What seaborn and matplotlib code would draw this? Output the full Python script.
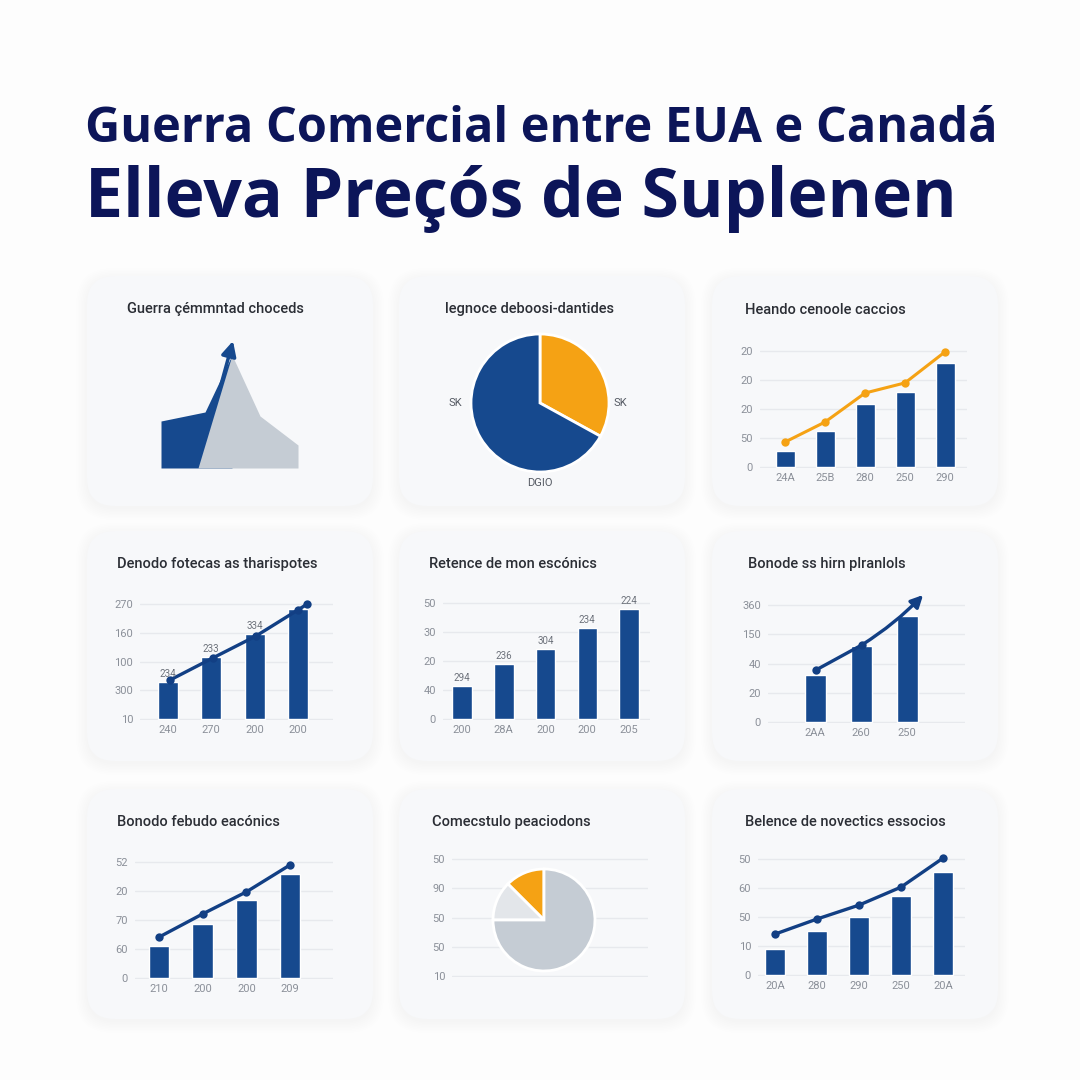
import numpy as np
import matplotlib
matplotlib.use("Agg")
import matplotlib.pyplot as plt
from matplotlib.patches import FancyBboxPatch
import seaborn as sns

W = H = 1080

NAVY = "#0c1559"
BLUE = "#16498e"
LINE_BLUE = "#123f84"
ORANGE = "#f5a214"
GRAY = "#c5ccd4"
LIGHT = "#e3e6ea"
TICK = "#8b9099"
GRID = "#e7e9ed"
TXT = "#2b2e35"

TITLE_1 = "Guerra Comercial entre EUA e Canadá"
TITLE_2 = "Elleva Preçós de Suplenen"

CARD_TITLES = [
    "Guerra çémmntad choceds", "legnoce deboosi-dantides", "Heando cenoole caccios",
    "Denodo fotecas as tharispotes", "Retence de mon escónics", "Bonode ss hirn plranlols",
    "Bonodo febudo eacónics", "Comecstulo peaciodons", "Belence de novectics essocios",
]

# panel 1: two overlapping areas
area_blue_x = [0, 44, 71]
area_blue_y = [47, 56, 113]
area_gray_x = [37, 71, 99, 137]
area_gray_y = [0, 113, 52, 23]

# panel 2: pie
pie_a_values = [33, 67]
pie_a_labels = ["SK", "SK", "DGIO"]

# panel 3
p3_ticks = ["0", "50", "20", "20", "20"]
p3_cats = ["24A", "25B", "280", "250", "290"]
p3_bars = [0.55, 1.24, 2.17, 2.59, 3.59]
p3_line = [0.86, 1.55, 2.55, 2.90, 3.97]

# panel 4
p4_ticks = ["10", "300", "100", "160", "270"]
p4_cats = ["240", "270", "200", "200"]
p4_bars = [1.29, 2.16, 2.96, 3.83]
p4_vals = ["234", "233", "334", ""]
p4_line_x = [0.05, 1.04, 2.03, 3.0, 3.21]
p4_line_y = [1.36, 2.13, 2.89, 3.80, 4.0]

# panel 5
p5_ticks = ["0", "40", "20", "30", "50"]
p5_cats = ["200", "28A", "200", "200", "205"]
p5_bars = [1.14, 1.90, 2.41, 3.14, 3.79]
p5_vals = ["294", "236", "304", "234", "224"]

# panel 6
p6_ticks = ["0", "20", "40", "150", "360"]
p6_cats = ["2AA", "260", "250"]
p6_bars = [1.61, 2.60, 3.63]
p6_line_x = [0.02, 1.02, 2.35]
p6_line_y = [1.78, 2.64, 4.35]

# panel 7
p7_ticks = ["0", "60", "70", "20", "52"]
p7_cats = ["210", "200", "200", "209"]
p7_bars = [1.10, 1.86, 2.69, 3.59]
p7_line = [1.41, 2.21, 2.97, 3.90]

# panel 8: pie over grid
p8_ticks = ["10", "50", "50", "90", "50"]
pie_b_values = [12.5, 12.5, 75]

# panel 9
p9_ticks = ["0", "10", "50", "60", "50"]
p9_cats = ["20A", "280", "290", "250", "20A"]
p9_bars = [0.90, 1.52, 2.00, 2.72, 3.55]
p9_line = [1.41, 1.93, 2.41, 3.03, 4.03]


def px_axes(fig, x0, y0, x1, y1):
    return fig.add_axes([x0 / W, 1 - y1 / H, (x1 - x0) / W, (y1 - y0) / H])


def grid_axes(fig, gl, gr, base, step, ticks, ymax=4.6):
    lo = -0.04
    ax = px_axes(fig, gl, base - ymax * step, gr, base - lo * step)
    ax.set_ylim(lo, ymax)
    ax.set_yticks(range(5))
    ax.set_yticklabels(ticks)
    ax.grid(axis="y", color=GRID, lw=1)
    ax.grid(axis="x", visible=False)
    ax.set_axisbelow(True)
    for s in ax.spines.values():
        s.set_visible(False)
    ax.tick_params(length=0, colors=TICK, labelsize=8)
    ax.tick_params(axis="y", pad=5)
    ax.tick_params(axis="x", pad=3.5)
    ax.patch.set_alpha(0)
    return ax


def bar_panel(fig, gl, gr, base, step, first, gap, bw, ticks, cats, bars):
    ax = grid_axes(fig, gl, gr, base, step, ticks)
    x = list(range(len(bars)))
    sns.barplot(x=x, y=bars, color=BLUE, saturation=1, width=bw / gap, ax=ax)
    ax.set_xticks(x)
    ax.set_xticklabels(cats)
    ax.set_xlim((gl - first) / gap, (gr - first) / gap)
    ax.set_xlabel("")
    ax.set_ylabel("")
    return ax


sns.set_theme(style="white")
plt.rcParams["font.family"] = ["Roboto", "DejaVu Sans"]

fig = plt.figure(figsize=(10.8, 10.8), dpi=100)
fig.patch.set_facecolor("#fdfdfd")

# cards
bg = fig.add_axes([0, 0, 1, 1])
bg.set_xlim(0, W)
bg.set_ylim(H, 0)
bg.axis("off")
card_x = [87, 399, 712]
card_y = [276, 531, 789]
cw, ch = 286, 230
for cy in card_y:
    for cx in card_x:
        for k in range(8):
            bg.add_patch(FancyBboxPatch((cx - k * 1.5, cy + 3 - k * 1.5), cw + k * 3, ch + k * 3,
                                        boxstyle="round,pad=0,rounding_size=%d" % (28 + k),
                                        fc="#a3abbb", ec="none", alpha=0.007))
        bg.add_patch(FancyBboxPatch((cx, cy), cw, ch, boxstyle="round,pad=0,rounding_size=28",
                                    fc="#f7f8fa", ec="none"))

# main title
fig.text(85 / W, 1 - 142 / H, TITLE_1, color=NAVY, fontsize=35, fontweight="bold",
         family=["Open Sans", "DejaVu Sans"], va="baseline", ha="left")
fig.text(85 / W, 1 - 217 / H, TITLE_2, color=NAVY, fontsize=49, fontweight="bold",
         family=["Open Sans", "DejaVu Sans"], va="baseline", ha="left")

# card titles
title_pos = [(127, 309), (445, 309), (745, 310),
             (117, 564), (429, 564), (748, 564),
             (117, 822), (432, 822), (745, 822)]
for (tx, ty), t in zip(title_pos, CARD_TITLES):
    fig.text(tx / W, 1 - ty / H, t, color=TXT, fontsize=10.5, fontweight="medium",
             va="center", ha="left")

# panel 1: areas with arrow
ax = px_axes(fig, 150, 330, 310, 470)
ax.fill_between(area_blue_x, area_blue_y, 0, color=BLUE, lw=0)
ax.fill_between(area_gray_x, area_gray_y, 0, color=GRAY, lw=0)
ax.annotate("", xy=(area_blue_x[-1] + 1, area_blue_y[-1] + 14),
            xytext=(area_blue_x[-2] + 14, area_blue_y[-2] + 20),
            arrowprops=dict(arrowstyle="-|>", color=BLUE, lw=2.5, mutation_scale=22,
                            shrinkA=0, shrinkB=0))
ax.set_xlim(-11, 149)
ax.set_ylim(-2, 138)
ax.axis("off")

# panel 2: pie
ax = px_axes(fig, 460, 323, 620, 483)
ax.pie(pie_a_values, colors=[ORANGE, BLUE], startangle=90, counterclock=False,
       wedgeprops=dict(edgecolor="white", linewidth=2))
r = 80 / 69
ax.set_xlim(-r, r)
ax.set_ylim(-r, r)
ax.text(-1.23, 0, pie_a_labels[0], color="#555a63", fontsize=8, ha="center", va="center")
ax.text(1.17, 0, pie_a_labels[1], color="#555a63", fontsize=8, ha="center", va="center")
ax.text(0, -1.16, pie_a_labels[2], color="#555a63", fontsize=8, ha="center", va="center")

# panel 3
ax = bar_panel(fig, 760, 967, 467, 29, 785, 40, 19, p3_ticks, p3_cats, p3_bars)
sns.lineplot(x=list(range(5)), y=p3_line, color=ORANGE, lw=2.2, marker="o",
             markersize=6, markeredgewidth=0, ax=ax)

# panel 4
ax = bar_panel(fig, 140, 333, 719, 28.7, 168, 43.3, 20, p4_ticks, p4_cats, p4_bars)
for i, (b, v) in enumerate(zip(p4_bars, p4_vals)):
    ax.text(i, b + 0.28, v, color="#6d727b", fontsize=7, ha="center", va="center")
sns.lineplot(x=p4_line_x, y=p4_line_y, color=LINE_BLUE, lw=2.4, marker="o",
             markersize=6, markeredgewidth=0, ax=ax)

# panel 5
ax = bar_panel(fig, 443, 650, 719, 29, 462, 41.75, 19.5, p5_ticks, p5_cats, p5_bars)
for i, (b, v) in enumerate(zip(p5_bars, p5_vals)):
    ax.text(i, b + 0.28, v, color="#6d727b", fontsize=7, ha="center", va="center")

# panel 6
ax = bar_panel(fig, 768, 965, 722, 29.2, 815, 46, 21, p6_ticks, p6_cats, p6_bars)
sns.lineplot(x=p6_line_x[:2], y=p6_line_y[:2], color=LINE_BLUE, lw=2.4, marker="o",
             markersize=6, markeredgewidth=0, ax=ax)
ax.annotate("", xy=(p6_line_x[2], p6_line_y[2]), xytext=(p6_line_x[1], p6_line_y[1]),
            arrowprops=dict(arrowstyle="-|>", color=LINE_BLUE, lw=2.4, mutation_scale=18,
                            shrinkA=0, shrinkB=0, connectionstyle="arc3,rad=0.06"))

# panel 7
ax = bar_panel(fig, 135, 333, 978, 29, 159, 43.7, 20.7, p7_ticks, p7_cats, p7_bars)
sns.lineplot(x=list(range(4)), y=p7_line, color=LINE_BLUE, lw=2.4, marker="o",
             markersize=6, markeredgewidth=0, ax=ax)

# panel 8: grid + pie
ax = grid_axes(fig, 452, 648, 976, 29.25, p8_ticks)
ax.set_xticks([])
ax = px_axes(fig, 484, 860, 604, 980)
ax.pie(pie_b_values, colors=[ORANGE, LIGHT, GRAY], startangle=90, counterclock=True,
       wedgeprops=dict(edgecolor="white", linewidth=2))
r = 60 / 51
ax.set_xlim(-r, r)
ax.set_ylim(-r, r)

# panel 9
ax = bar_panel(fig, 758, 965, 975, 29, 775, 42, 20, p9_ticks, p9_cats, p9_bars)
sns.lineplot(x=list(range(5)), y=p9_line, color=LINE_BLUE, lw=2.4, marker="o",
             markersize=6, markeredgewidth=0, ax=ax)

fig.savefig("out.png", dpi=100, facecolor=fig.get_facecolor())
